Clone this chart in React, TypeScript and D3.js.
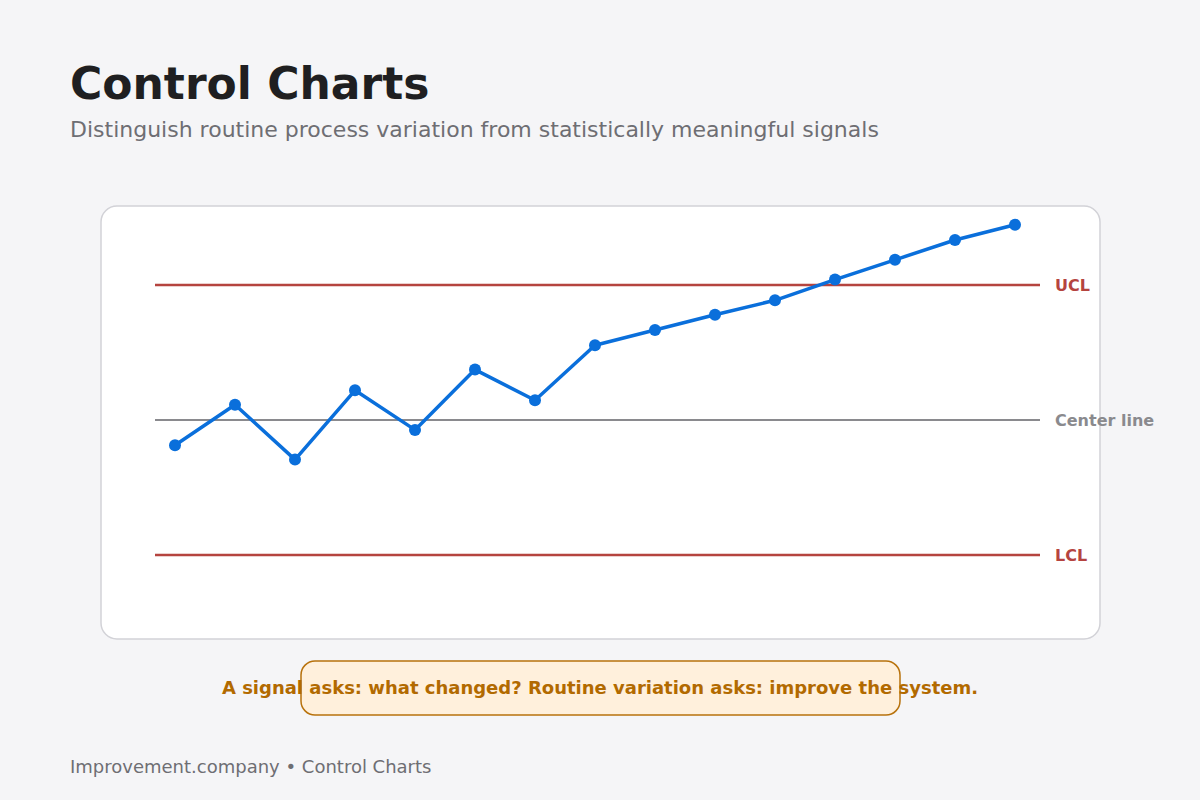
import React, { useEffect, useRef } from 'react';
import * as d3 from 'd3';

// Process measurements, one per sample
const samples = [1, 2, 3, 4, 5, 6, 7, 8, 9, 10, 11, 12, 13, 14, 15];
const values = [47.2, 51.7, 45.6, 53.3, 48.9, 55.6, 52.2, 58.3, 60.0, 61.7, 63.3, 65.6, 67.8, 70.0, 71.7];

const centerValue = 50;
const ucl = 65;
const lcl = 35;

const limitLabels = ['UCL', 'Center line', 'LCL'];

const title = 'Control Charts';
const subtitle = 'Distinguish routine process variation from statistically meaningful signals';
const callout = 'A signal asks: what changed? Routine variation asks: improve the system.';
const footer = 'Improvement.company \u2022 Control Charts';

const FONT = '"DejaVu Sans", Verdana, sans-serif';

const App: React.FC = () => {
  const svgRef = useRef<SVGSVGElement>(null);

  useEffect(() => {
    if (!svgRef.current) return;
    const svg = d3.select(svgRef.current);
    svg.selectAll('*').remove();

    const width = 1200;
    const height = 800;

    svg.append('rect')
      .attr('width', width)
      .attr('height', height)
      .attr('fill', '#f5f5f7');

    // Title + subtitle
    svg.append('text')
      .attr('x', 70)
      .attr('y', 99)
      .attr('font-family', FONT)
      .attr('font-size', 44)
      .attr('font-weight', 'bold')
      .attr('fill', '#1f1f21')
      .text(title);

    svg.append('text')
      .attr('x', 70)
      .attr('y', 137)
      .attr('font-family', FONT)
      .attr('font-size', 22)
      .attr('fill', '#6e6e73')
      .text(subtitle);

    // Panel
    svg.append('rect')
      .attr('x', 101)
      .attr('y', 206)
      .attr('width', 999)
      .attr('height', 433)
      .attr('rx', 16)
      .attr('fill', '#ffffff')
      .attr('stroke', '#d2d2d7')
      .attr('stroke-width', 1.5);

    const plotLeft = 155;
    const plotRight = 1040;

    const x = d3.scaleLinear()
      .domain([1, samples.length])
      .range([175, 1015]);

    const y = d3.scaleLinear()
      .domain([lcl, ucl])
      .range([555, 285]);

    const limits = [
      { label: limitLabels[0], value: ucl, color: '#b5443f', width: 2.5 },
      { label: limitLabels[1], value: centerValue, color: '#8a8a8e', width: 2 },
      { label: limitLabels[2], value: lcl, color: '#b5443f', width: 2.5 },
    ];

    limits.forEach(l => {
      svg.append('line')
        .attr('x1', plotLeft)
        .attr('x2', plotRight)
        .attr('y1', y(l.value))
        .attr('y2', y(l.value))
        .attr('stroke', l.color)
        .attr('stroke-width', l.width);

      svg.append('text')
        .attr('x', 1055)
        .attr('y', y(l.value))
        .attr('dy', '0.35em')
        .attr('font-family', FONT)
        .attr('font-size', 16)
        .attr('font-weight', 'bold')
        .attr('fill', l.color)
        .text(l.label);
    });

    const line = d3.line<number>()
      .x((_, i) => x(samples[i]))
      .y(d => y(d));

    svg.append('path')
      .datum(values)
      .attr('fill', 'none')
      .attr('stroke', '#0a6fdb')
      .attr('stroke-width', 3.5)
      .attr('stroke-linejoin', 'round')
      .attr('d', line);

    svg.append('g')
      .selectAll('circle')
      .data(values)
      .join('circle')
      .attr('cx', (_, i) => x(samples[i]))
      .attr('cy', d => y(d))
      .attr('r', 6)
      .attr('fill', '#0a6fdb');

    // Callout
    svg.append('rect')
      .attr('x', 301)
      .attr('y', 661)
      .attr('width', 599)
      .attr('height', 54)
      .attr('rx', 14)
      .attr('fill', '#fff0dc')
      .attr('stroke', '#b8720c')
      .attr('stroke-width', 1.5);

    svg.append('text')
      .attr('x', 600)
      .attr('y', 694)
      .attr('text-anchor', 'middle')
      .attr('font-family', FONT)
      .attr('font-size', 18)
      .attr('font-weight', 'bold')
      .attr('fill', '#b26a00')
      .text(callout);

    // Footer
    svg.append('text')
      .attr('x', 70)
      .attr('y', 773)
      .attr('font-family', FONT)
      .attr('font-size', 18)
      .attr('fill', '#6e6e73')
      .text(footer);
  }, []);

  return (
    <svg
      ref={svgRef}
      width={1200}
      height={800}
      style={{ position: 'absolute', left: 0, top: 0, display: 'block' }}
    />
  );
};

export default App;
